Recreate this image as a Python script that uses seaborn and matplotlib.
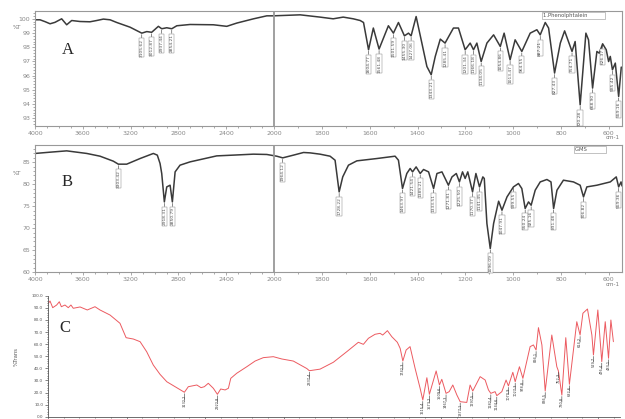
import numpy as np
import pandas as pd
import matplotlib
matplotlib.use("Agg")
import matplotlib.pyplot as plt
from matplotlib.ticker import MultipleLocator, FixedLocator
import seaborn as sns

# ---- spectrum A (%T) ----
wn_a = [4000, 3958, 3916, 3874, 3833, 3777, 3735, 3693, 3623, 3540, 3484, 3428, 3372, 3316,
        3205, 3107, 3065, 3024, 2968, 2940, 2898, 2856, 2814, 2703, 2508, 2396, 2312, 2172,
        2061, 2006, 1891, 1808, 1753, 1711, 1669, 1640, 1626, 1605, 1585, 1561, 1522, 1501,
        1480, 1455, 1438, 1427, 1406, 1382, 1361, 1343, 1326, 1305, 1285, 1250, 1229, 1201,
        1180, 1166, 1152, 1134, 1110, 1082, 1054, 1038, 1013, 992, 964, 929, 901, 887, 866,
        852, 827, 803, 785, 754, 741, 720, 696, 685, 668, 650, 640, 626, 611, 601, 594, 585,
        573, 559, 548]
t_a = [99.93, 99.93, 99.80, 99.65, 99.75, 100.0, 99.58, 99.88, 99.81, 99.79, 99.88, 99.98,
       99.93, 99.74, 99.41, 98.99, 99.10, 99.05, 99.47, 99.30, 99.37, 99.30, 99.51, 99.60,
       99.58, 99.47, 99.70, 100.0, 100.21, 100.21, 100.28, 100.12, 100.0, 100.12, 100.0,
       99.88, 99.74, 97.82, 99.35, 97.87, 99.51, 98.99, 99.74, 98.80, 98.99, 98.80, 100.16,
       98.29, 96.64, 96.06, 97.35, 98.57, 98.29, 99.35, 99.35, 97.82, 98.29, 97.82, 98.29,
       96.99, 98.29, 98.87, 98.05, 98.99, 97.11, 98.52, 97.70, 98.99, 99.23, 98.87, 99.74,
       99.35, 96.18, 98.29, 99.15, 97.70, 98.40, 93.94, 98.99, 98.52, 95.12, 97.70, 97.58,
       98.24, 97.82, 96.99, 97.35, 96.41, 96.88, 94.53, 96.60]
peaks_a = [3105.62, 3012.87, 2937.44, 2854.21, 1604.77, 1561.48, 1501.59, 1455.30, 1427.06,
           1343.21, 1285.41, 1201.34, 1166.18, 1134.05, 1054.86, 1013.47, 964.55, 887.21,
           827.43, 754.71, 720.28, 668.90, 626.37, 585.42, 559.16]

# ---- spectrum B (%T) ----
wn_b = [4000, 3874, 3735, 3567, 3456, 3345, 3303, 3233, 3121, 3010, 2977, 2954, 2940, 2918,
        2898, 2870, 2851, 2828, 2787, 2703, 2480, 2343, 2173, 2061, 1989, 1964, 1919, 1877,
        1849, 1808, 1766, 1745, 1728, 1713, 1689, 1654, 1570, 1494, 1480, 1463, 1445, 1431,
        1421, 1406, 1389, 1375, 1354, 1333, 1319, 1298, 1271, 1256, 1238, 1225, 1212, 1201,
        1190, 1170, 1156, 1141, 1127, 1121, 1110, 1096, 1082, 1061, 1047, 1026, 999, 978,
        964, 950, 936, 925, 908, 887, 859, 842, 831, 817, 790, 748, 720, 706, 692, 650, 594,
        569, 559, 549, 545]
t_b = [86.98, 87.27, 87.57, 86.98, 86.36, 85.23, 84.55, 84.55, 85.83, 86.98, 86.60, 84.70,
       82.43, 75.98, 79.39, 79.77, 75.98, 82.80, 84.32, 85.07, 86.43, 86.60, 86.82, 86.75,
       86.36, 85.98, 86.60, 87.20, 87.11, 86.82, 86.36, 85.45, 78.25, 81.66, 84.32, 85.30,
       85.83, 86.36, 85.45, 79.02, 82.43, 83.57, 82.80, 83.93, 82.43, 83.34, 82.80, 79.02,
       82.43, 82.80, 79.77, 81.66, 82.43, 80.52, 82.80, 81.30, 82.80, 78.25, 82.43, 79.39,
       81.66, 81.30, 71.07, 65.39, 71.07, 76.14, 74.09, 77.11, 79.39, 80.16, 79.02, 74.48,
       75.98, 75.23, 78.64, 80.52, 81.07, 80.52, 74.48, 78.64, 80.91, 80.52, 79.77, 77.11,
       79.39, 79.77, 80.52, 81.66, 79.39, 80.52, 79.60]
peaks_b = [3303.42, 2918.31, 2850.79, 1964.12, 1728.22, 1463.97, 1421.54, 1389.21, 1333.51,
           1271.81, 1225.50, 1170.37, 1141.45, 1096.09, 1047.91, 999.55, 950.24, 925.16,
           831.48, 706.82, 559.36]

# ---- spectrum C (%Trans) ----
wn_c = [3998, 3987, 3970, 3945, 3928, 3915, 3892, 3871, 3854, 3839, 3796, 3750, 3701, 3669,
        3605, 3542, 3503, 3457, 3414, 3372, 3330, 3287, 3244, 3181, 3132, 3107, 3053, 3026,
        3005, 2980, 2948, 2922, 2901, 2873, 2852, 2837, 2799, 2735, 2682, 2630, 2566, 2512,
        2439, 2353, 2337, 2269, 2184, 2099, 2025, 1993, 1961, 1919, 1887, 1870, 1840, 1812,
        1777, 1759, 1742, 1721, 1696, 1664, 1632, 1615, 1589, 1573, 1530, 1509, 1494, 1467,
        1447, 1424, 1398, 1377, 1335, 1314, 1297, 1250, 1218, 1197, 1182, 1155, 1144, 1112,
        1085, 1070, 1042, 1027, 1000, 978, 932, 911, 894, 879, 857, 836, 794, 762, 752, 730,
        705, 682, 635, 614, 596, 567, 539, 529, 501, 476, 454, 433, 418, 402]
t_c = [93.7, 95.6, 90.1, 92.3, 95.0, 90.9, 92.3, 90.1, 92.3, 89.6, 90.7, 88.2, 90.9, 88.2,
       84.0, 77.2, 65.3, 64.2, 62.0, 53.7, 42.7, 35.0, 28.9, 24.0, 20.2, 24.8, 26.2, 24.0,
       24.8, 27.6, 23.5, 18.5, 22.9, 22.1, 23.5, 31.7, 35.9, 41.3, 46.0, 48.8, 49.6, 47.7,
       46.0, 39.8, 38.0, 39.3, 45.0, 53.7, 61.5, 59.8, 64.8, 68.1, 68.9, 67.5, 71.1, 66.1,
       61.5, 56.5, 46.0, 55.1, 57.9, 40.0, 23.5, 13.8, 32.2, 18.5, 37.8, 26.2, 30.9, 19.3,
       20.7, 26.2, 17.9, 12.4, 11.8, 26.2, 21.2, 33.1, 30.3, 22.1, 19.3, 20.7, 17.4, 20.7,
       30.3, 25.4, 36.7, 28.9, 41.3, 31.7, 57.9, 59.3, 55.1, 73.6, 59.3, 21.2, 67.5, 41.3,
       37.8, 17.9, 65.3, 26.8, 78.5, 67.5, 85.5, 89.0, 67.5, 51.0, 88.2, 45.5, 78.5, 48.3,
       79.9, 62.0]
peaks_c = [3132.2, 2922.8, 2337.4, 1742.3, 1615.4, 1573.2, 1509.6, 1467.3, 1377.1, 1297.5,
           1182.4, 1144.6, 1070.9, 1027.3, 978.8, 894.1, 836.5, 752.3, 730.8, 682.6, 614.2,
           529.7, 476.4, 433.1]

a_ticks = [4000, 3600, 3200, 2800, 2400, 2000, 1800, 1600, 1400, 1200, 1000, 800, 600]


def fwd(w):
    w = np.asarray(w, dtype=float)
    return np.where(w > 2000, 2000 + (w - 2000) * 0.5, w)


def inv(u):
    u = np.asarray(u, dtype=float)
    return np.where(u > 2000, 2000 + (u - 2000) * 2.0, u)


def label_peaks(ax, wn, val, peaks, fs, color, box, gap=-4):
    wn = np.asarray(wn)
    for p in peaks:
        i = int(np.argmin(np.abs(wn - p)))
        kw = {}
        if box:
            kw['bbox'] = dict(boxstyle='square,pad=0.15', fc='white', ec='#888', lw=0.35)
        ax.annotate(f"{p:.2f}" if box else f"{p:.1f}", xy=(wn[i], val[i]),
                    xytext=(0, gap), textcoords='offset points', rotation=90,
                    ha='center', va='top', fontsize=fs, color=color,
                    arrowprops=dict(arrowstyle='-', lw=0.4, color='#333',
                                    shrinkA=0, shrinkB=1), **kw)


def ftir_axes(ax, wn, val, ylim, ymaj, ymin, peaks, legend, lx):
    df = pd.DataFrame({'wn': wn, 'T': val})
    sns.lineplot(data=df, x='wn', y='T', ax=ax, color='#3a3a3a', lw=1.1,
                 sort=False, estimator=None)
    ax.set_xscale('function', functions=(fwd, inv))
    ax.set_xlim(4000, 545)
    ax.set_ylim(*ylim)
    ax.axvline(2000, color='#999', lw=1.3)
    ax.xaxis.set_major_locator(FixedLocator(a_ticks))
    ax.xaxis.set_minor_locator(FixedLocator(list(range(3900, 500, -100))))
    ax.set_xticklabels([str(t) for t in a_ticks])
    ax.yaxis.set_major_locator(MultipleLocator(ymaj))
    ax.yaxis.set_minor_locator(MultipleLocator(ymin))
    ax.tick_params(which='both', labelsize=4.5, colors='#888', width=0.5, length=2, pad=1.5)
    ax.tick_params(which='minor', length=1.2)
    ax.set_xlabel('')
    ax.set_ylabel('')
    for s in ax.spines.values():
        s.set_color('#999')
        s.set_linewidth(0.8)
    label_peaks(ax, wn, val, peaks, 3.2, '#555', True)
    ax.text(lx, 0.985, legend, transform=ax.transAxes, fontsize=3.8, color='#555',
            ha='left', va='top',
            bbox=dict(boxstyle='square,pad=0.2', fc='white', ec='#aaa', lw=0.5))
    ax.text(0.985, -0.075, 'cm-1', transform=ax.transAxes, fontsize=4, color='#777',
            ha='center', va='top')


sns.set_style("ticks")
plt.rcParams['font.family'] = ['DejaVu Sans']

fig = plt.figure(figsize=(6.25, 4.19), dpi=100)

ax_a = fig.add_axes([35 / 625, 1 - 126 / 419, 587 / 625, 115 / 419])
ftir_axes(ax_a, wn_a, t_a, (92.45, 100.55), 1, 0.2, peaks_a,
          '1.Phenolphtalein          ', 0.865)
ax_a.text(-0.03, 0.86, '%T', transform=ax_a.transAxes, fontsize=4, color='#777',
          ha='center', va='center')

ax_b = fig.add_axes([35 / 625, 1 - 272.3 / 419, 587 / 625, 127.3 / 419])
ftir_axes(ax_b, wn_b, t_b, (60, 88.9), 5, 1, peaks_b, 'GMS           ', 0.92)
ax_b.text(-0.03, 0.78, '%T', transform=ax_b.transAxes, fontsize=4, color='#777',
          ha='center', va='center')

ax_c = fig.add_axes([48 / 625, 1 - 416.7 / 419, 572 / 625, 121 / 419])
df_c = pd.DataFrame({'wn': wn_c, 'T': t_c})
sns.lineplot(data=df_c, x='wn', y='T', ax=ax_c, color='#ec5a60', lw=0.7,
             sort=False, estimator=None)
ax_c.set_xlim(4000, 360)
ax_c.set_ylim(0, 100)
ax_c.xaxis.set_major_locator(MultipleLocator(500))
ax_c.xaxis.set_minor_locator(MultipleLocator(100))
ax_c.set_xticklabels([])
ax_c.yaxis.set_major_locator(MultipleLocator(10))
ax_c.yaxis.set_minor_locator(MultipleLocator(2))
ax_c.yaxis.set_major_formatter(matplotlib.ticker.FormatStrFormatter('%.1f'))
ax_c.tick_params(which='both', labelsize=3.0, colors='#555', width=0.5, length=2, pad=1.5)
ax_c.tick_params(which='minor', length=1)
sns.despine(ax=ax_c)
for s in ax_c.spines.values():
    s.set_color('#555')
    s.set_linewidth(0.6)
ax_c.set_xlabel('')
ax_c.set_ylabel('%Trans', fontsize=3.8, color='#555', labelpad=9)
label_peaks(ax_c, wn_c, t_c, peaks_c, 2.5, '#333', False, gap=-1.5)

fig.text(68 / 625, 1 - 50 / 419, 'A', fontsize=12, family='Liberation Serif',
         ha='center', va='center')
fig.text(67 / 625, 1 - 182 / 419, 'B', fontsize=12, family='Liberation Serif',
         ha='center', va='center')
fig.text(65 / 625, 1 - 328 / 419, 'C', fontsize=12, family='Liberation Serif',
         ha='center', va='center')

fig.savefig('out.png', dpi=100)
